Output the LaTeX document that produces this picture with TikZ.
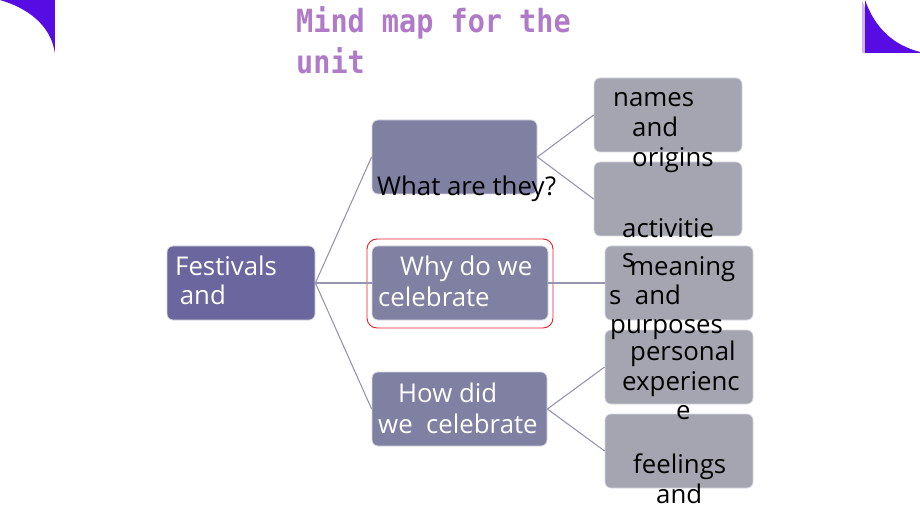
\documentclass[tikz,border=0pt]{standalone}
\usepackage{fontspec}
\newfontfamily\sego{Open Sans}
\newfontfamily\titlefont{DejaVu Sans Mono}
\definecolor{cornerpurple}{RGB}{88,12,228}
\definecolor{titlepurple}{RGB}{176,122,200}
\definecolor{rootfill}{RGB}{107,102,158}
\definecolor{midfill}{RGB}{128,128,162}
\definecolor{leaffill}{RGB}{165,165,178}
\definecolor{boxline}{RGB}{215,215,225}
\definecolor{linkgrey}{RGB}{150,150,175}
\definecolor{hilite}{RGB}{232,30,40}
\tikzset{
  x=1pt, y=-1pt,
  boxbase/.style={draw=boxline, line width=0.8pt, rounded corners=6pt, inner sep=0pt},
  rootbox/.style={boxbase, fill=rootfill},
  midbox/.style={boxbase, fill=midfill},
  leafbox/.style={boxbase, fill=leaffill},
  link/.style={draw=linkgrey, line width=1.1pt},
  wtext/.style={anchor=base west, inner sep=0pt, text=white, font=\sego\fontsize{25.8}{30}\selectfont},
  btext/.style={anchor=base west, inner sep=0pt, text=black, font=\sego\fontsize{25.8}{30}\selectfont},
  ttext/.style={anchor=base west, inner sep=0pt, text=titlepurple, font=\titlefont\bfseries\fontsize{28.5}{40}\selectfont},
}
\begin{document}
\begin{tikzpicture}
\useasboundingbox (0,0) rectangle (920,518);
% corner decorations
\fill[cornerpurple!30] (0,0) .. controls (36,8) and (55,28) .. (58,56) -- (58,0) -- cycle;
\fill[cornerpurple] (0,0) .. controls (34,10) and (52,30) .. (55,54) -- (55,0) -- cycle;
\fill[white] (55,0) rectangle (59,57);
\fill[cornerpurple!30] (862,0) .. controls (872,30) and (892,48) .. (920,55) -- (920,58) -- (862,58) -- cycle;
\fill[cornerpurple] (865,0) .. controls (875,28) and (893,45) .. (920,52) -- (920,53) -- (865,53) -- cycle;
\fill[white] (860,53) rectangle (921,58);
% title
\node[ttext] (title1) at (296,33) {\scalebox{1}[1.12]{Mind map for the}};
\node[ttext] (title2) at (296,74) {\scalebox{1}[1.12]{unit}};
% boxes
\node[rootbox, minimum width=148pt, minimum height=74pt] (fest) at (241,283) {};
\node[midbox, minimum width=165pt, minimum height=74pt] (qa) at (454.5,157) {};
\node[midbox, minimum width=176pt, minimum height=74pt] (qb) at (460,283) {};
\node[midbox, minimum width=175pt, minimum height=74pt] (qc) at (459.5,409) {};
\node[draw=hilite, line width=0.9pt, rounded corners=10pt, minimum width=186pt, minimum height=89pt, inner sep=0pt] (mark) at (460,283.5) {};
\node[leafbox, minimum width=148pt, minimum height=74pt] (la) at (668,115) {};
\node[leafbox, minimum width=148pt, minimum height=74pt] (lb) at (668,199) {};
\node[leafbox, minimum width=148pt, minimum height=74pt] (lc) at (679,283) {};
\node[leafbox, minimum width=148pt, minimum height=74pt] (ld) at (679,367) {};
\node[leafbox, minimum width=148pt, minimum height=74pt] (le) at (679,451) {};
% connectors
\draw[link] (fest.east) -- (qa.west);
\draw[link] (fest.east) -- (qb.west);
\draw[link] (fest.east) -- (qc.west);
\draw[link] (qa.east) -- (la.west);
\draw[link] (qa.east) -- (lb.west);
\draw[link] (qb.east) -- (lc.west);
\draw[link] (qc.east) -- (ld.west);
\draw[link] (qc.east) -- (le.west);
% texts
\node[wtext] (tf1) at (175,276) {Festivals};
\node[wtext] (tf2) at (173,305) {\ and};
\node[btext] (ta1) at (377,196) {What are they?};
\node[wtext] (tb1) at (400,276) {Why do we};
\node[wtext] (tb2) at (378,306) {celebrate};
\node[wtext] (tc1) at (398,402) {How did};
\node[wtext] (tc2) at (378,433) {we\ \ celebrate};
\node[btext] (tla1) at (613,107) {names};
\node[btext] (tla2) at (632,137) {and};
\node[btext] (tla3) at (632,167) {origins};
\node[btext] (tlb1) at (622,238) {activitie};
\node[btext] (tlb2) at (622,268) {s};
\node[btext] (tlc1) at (630,276) {meaning};
\node[btext] (tlc2) at (609,305) {s\ \ and};
\node[btext] (tlc3) at (610,333) {purposes};
\node[btext] (tld1) at (630,360) {personal};
\node[btext] (tld2) at (622,390) {experienc};
\node[btext] (tld3) at (676,419) {e};
\node[btext] (tle1) at (633,473) {feelings};
\node[btext] (tle2) at (656,503) {and};
\end{tikzpicture}
\end{document}
